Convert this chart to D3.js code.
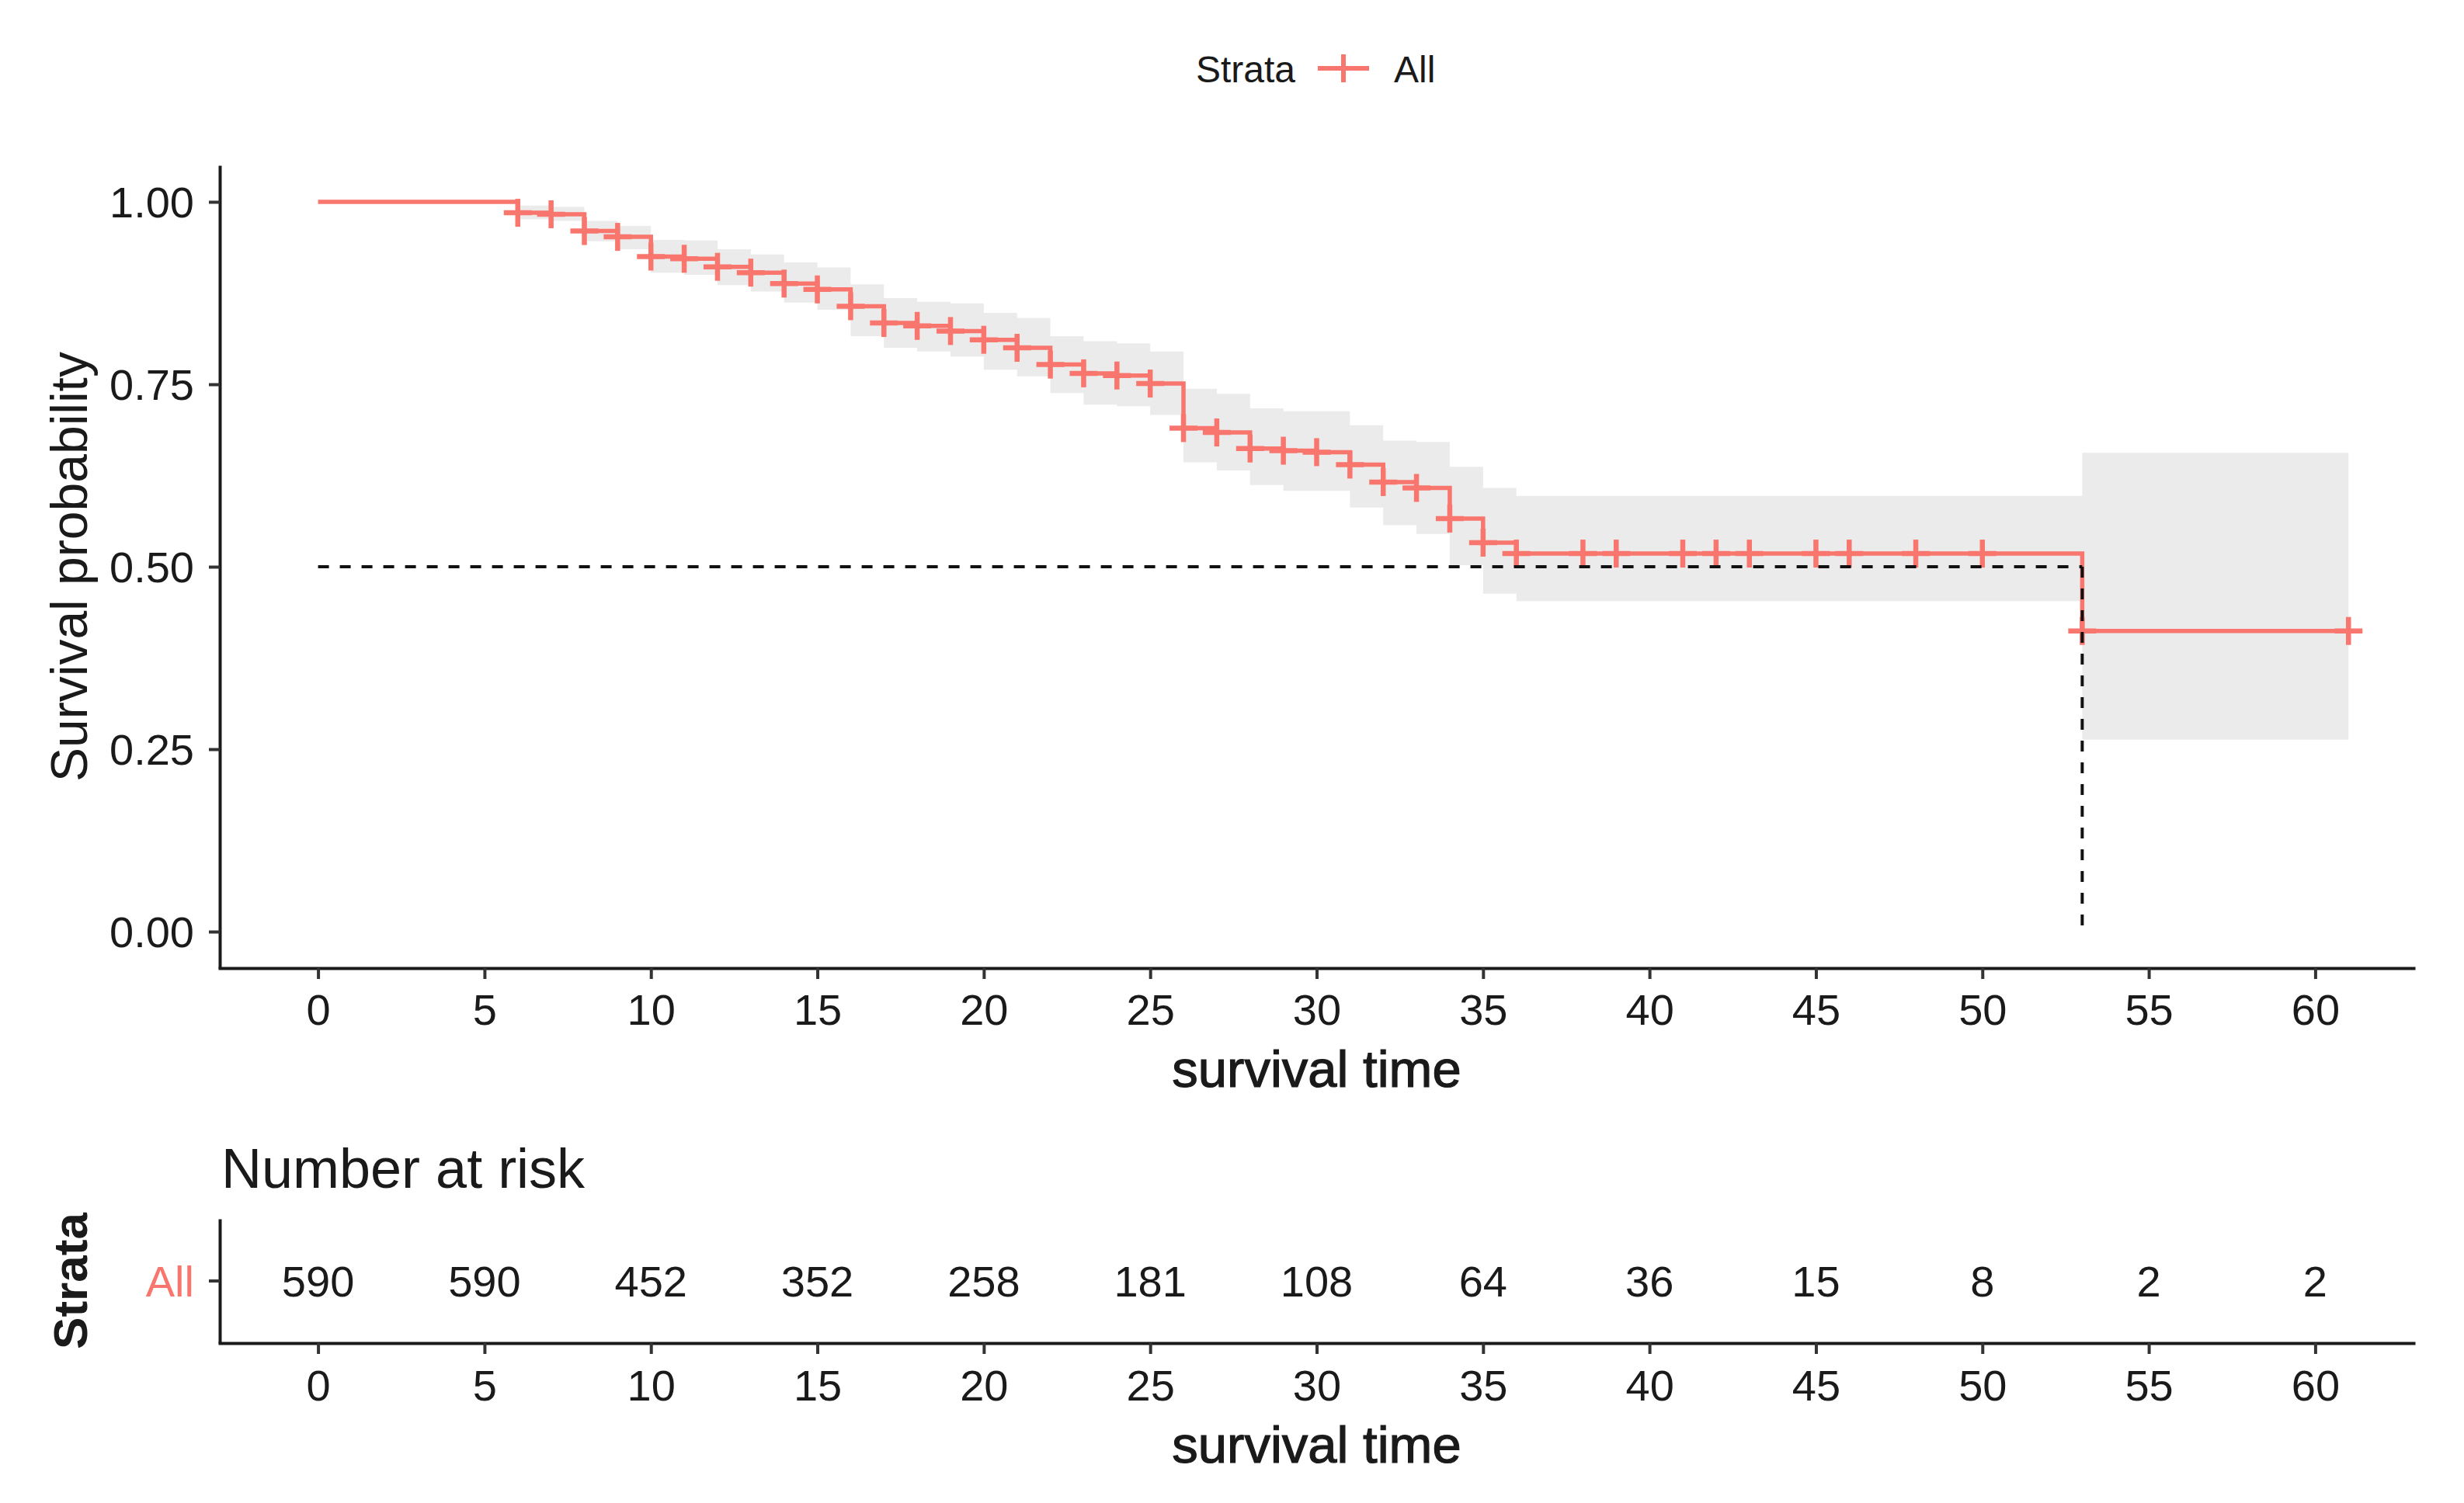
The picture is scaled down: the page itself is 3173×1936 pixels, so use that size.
<!DOCTYPE html>
<html>
<head>
<meta charset="utf-8">
<script src="https://cdn.jsdelivr.net/npm/d3@7"></script>
<style>
  html, body { margin: 0; padding: 0; background: #fff; }
  svg { display: block; }
  text { font-family: "Liberation Sans", Arial, sans-serif; }
</style>
</head>
<body>
<div id="chart"></div>
<script>
// Kaplan-Meier estimate
const stepTimes = [0, 6, 7, 8, 9, 10, 11, 12, 13, 14, 15, 16, 17, 18, 19, 20, 21, 22, 23, 24, 25, 26, 27, 28, 29, 30, 31, 32, 33, 34, 35, 36, 53];
const survival  = [1.000, 0.985, 0.983, 0.960, 0.952, 0.925, 0.922, 0.911, 0.903, 0.888, 0.880, 0.857, 0.834, 0.830, 0.823, 0.811, 0.800, 0.777, 0.765, 0.762, 0.751, 0.690, 0.684, 0.662, 0.659, 0.657, 0.640, 0.616, 0.608, 0.566, 0.533, 0.518, 0.412];
const upperCI   = [1.000, 0.995, 0.993, 0.974, 0.967, 0.948, 0.947, 0.935, 0.928, 0.917, 0.910, 0.887, 0.868, 0.863, 0.861, 0.848, 0.841, 0.816, 0.809, 0.806, 0.795, 0.744, 0.737, 0.717, 0.713, 0.713, 0.694, 0.673, 0.671, 0.637, 0.608, 0.597, 0.656];
const lowerCI   = [1.000, 0.976, 0.974, 0.946, 0.935, 0.903, 0.900, 0.886, 0.877, 0.862, 0.852, 0.816, 0.800, 0.795, 0.788, 0.770, 0.761, 0.738, 0.722, 0.720, 0.708, 0.643, 0.632, 0.612, 0.604, 0.604, 0.581, 0.557, 0.545, 0.502, 0.463, 0.453, 0.263];
const lastTime = 61;
const censorTimes = [6, 7, 8, 9, 10, 11, 12, 13, 14, 15, 16, 17, 18, 19, 20, 21, 22, 23, 24, 25, 26, 27, 28, 29, 30, 31, 32, 33, 34, 35, 36, 38, 39, 41, 42, 43, 45, 46, 48, 50, 53, 61];
const medianTime = 53;

const xTicks = [0, 5, 10, 15, 20, 25, 30, 35, 40, 45, 50, 55, 60];
const yTicks = [0, 0.25, 0.5, 0.75, 1];
const riskTimes  = [0, 5, 10, 15, 20, 25, 30, 35, 40, 45, 50, 55, 60];
const riskCounts = [590, 590, 452, 352, 258, 181, 108, 64, 36, 15, 8, 2, 2];
const strataName = 'All';

const red = '#F8766D';
const ink = '#1a1a1a';
const W = 3173, H = 1936;

const svg = d3.select('#chart').append('svg')
  .attr('width', W).attr('height', H)
  .attr('viewBox', `0 0 ${W} ${H}`)
  .style('fill', ink);

const x = d3.scaleLinear().domain([-3, 63]).range([281, 3110]);
const y = d3.scaleLinear().domain([-0.05, 1.05]).range([1247, 213]);
const axisX = 283;

// step data
const km = stepTimes.map((t, i) => ({ t, s: survival[i], lo: lowerCI[i], hi: upperCI[i] }));
const kmEnd = [...km, { ...km[km.length - 1], t: lastTime }];
const survAt = t => survival[d3.bisectRight(stepTimes, t) - 1];

// confidence band
svg.append('path')
  .datum(kmEnd)
  .style('fill', '#ebebeb')
  .attr('d', d3.area().curve(d3.curveStepAfter)
    .x(d => x(d.t)).y0(d => y(d.lo)).y1(d => y(d.hi)));

// survival curve
svg.append('path')
  .datum(kmEnd)
  .style('fill', 'none')
  .attr('stroke', red)
  .attr('stroke-width', 5.5)
  .attr('d', d3.line().curve(d3.curveStepAfter).x(d => x(d.t)).y(d => y(d.s)));

// censor marks
const cs = 18;
const marks = svg.append('g').attr('stroke', red).attr('stroke-width', 6.5);
censorTimes.forEach(t => {
  const cx = x(t), cy = y(survAt(t));
  marks.append('line').attr('x1', cx - cs).attr('x2', cx + cs).attr('y1', cy).attr('y2', cy);
  marks.append('line').attr('x1', cx).attr('x2', cx).attr('y1', cy - cs).attr('y2', cy + cs);
});

// median lines
const med = svg.append('g').attr('stroke', '#111').attr('stroke-width', 4).attr('stroke-dasharray', '14,14');
med.append('line').attr('x1', x(0)).attr('x2', x(medianTime)).attr('y1', y(0.5)).attr('y2', y(0.5));
med.append('line').attr('x1', x(medianTime)).attr('x2', x(medianTime)).attr('y1', y(0.5)).attr('y2', y(0));

function styleAxis(g) {
  g.select('.domain').attr('stroke', ink).attr('stroke-width', 4);
  g.selectAll('.tick line').attr('stroke', '#333').attr('stroke-width', 4);
  g.selectAll('.tick text').attr('font-size', 56).style('fill', ink);
}

// main axes
const gx = svg.append('g').attr('transform', 'translate(0,1247)')
  .call(d3.axisBottom(x).tickValues(xTicks).tickSize(14).tickSizeOuter(0));
styleAxis(gx);
gx.selectAll('.tick text').attr('y', 73).attr('dy', 0);

const gy = svg.append('g').attr('transform', `translate(${axisX},0)`)
  .call(d3.axisLeft(y).tickValues(yTicks).tickFormat(d3.format('.2f')).tickSize(14).tickSizeOuter(0));
styleAxis(gy);
gy.selectAll('.tick text').attr('x', -33).attr('dy', '0.34em');

svg.append('text').attr('x', x(30)).attr('y', 1400).attr('text-anchor', 'middle')
  .attr('font-size', 67).attr('stroke', ink).attr('stroke-width', 1.2).text('survival time');
svg.append('text').attr('transform', `translate(112,${y(0.5)}) rotate(-90)`).attr('text-anchor', 'middle')
  .attr('font-size', 66).text('Survival probability');

// legend
const lg = svg.append('g');
lg.append('text').attr('x', 1540).attr('y', 106).attr('font-size', 48).text('Strata');
lg.append('line').attr('x1', 1697).attr('x2', 1763).attr('y1', 88).attr('y2', 88).attr('stroke', red).attr('stroke-width', 6);
lg.append('line').attr('x1', 1730).attr('x2', 1730).attr('y1', 70).attr('y2', 106).attr('stroke', red).attr('stroke-width', 6);
lg.append('text').attr('x', 1795).attr('y', 106).attr('font-size', 48).text(strataName);

// risk table
svg.append('text').attr('x', 285).attr('y', 1530).attr('font-size', 72).text('Number at risk');

const ry = d3.scaleBand().domain([strataName]).range([1570, 1730]);
const rowY = ry(strataName) + ry.bandwidth() / 2;

const rgx = svg.append('g').attr('transform', 'translate(0,1730)')
  .call(d3.axisBottom(x).tickValues(xTicks).tickSize(14).tickSizeOuter(0));
styleAxis(rgx);
rgx.selectAll('.tick text').attr('y', 74).attr('dy', 0);

const rgy = svg.append('g').attr('transform', `translate(${axisX},0)`)
  .call(d3.axisLeft(ry).tickSize(14).tickSizeOuter(0));
styleAxis(rgy);
rgy.selectAll('.tick text').attr('x', -33).style('fill', red).attr('dy', '0.36em');

svg.append('g').selectAll('text')
  .data(riskTimes)
  .join('text')
  .attr('x', d => x(d))
  .attr('y', rowY)
  .attr('dy', '0.36em')
  .attr('text-anchor', 'middle')
  .attr('font-size', 56)
  .text((d, i) => riskCounts[i]);

svg.append('text').attr('x', x(30)).attr('y', 1884).attr('text-anchor', 'middle')
  .attr('font-size', 67).attr('stroke', ink).attr('stroke-width', 1.2).text('survival time');
svg.append('text').attr('transform', `translate(112,${rowY}) rotate(-90)`).attr('text-anchor', 'middle')
  .attr('font-size', 62).attr('font-weight', 'bold').text('Strata');
</script>
</body>
</html>
